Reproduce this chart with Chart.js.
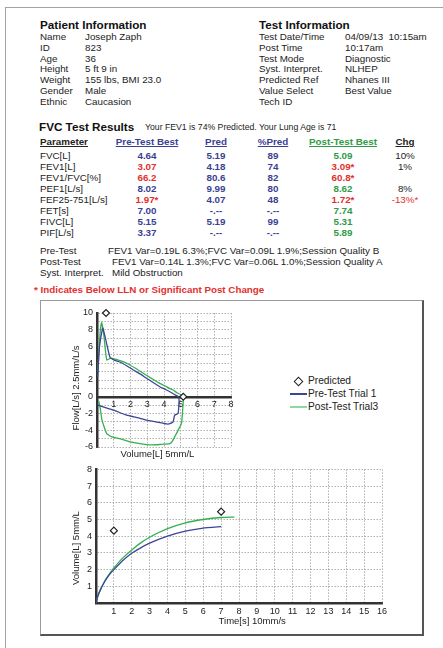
<!DOCTYPE html>
<html>
<head>
<meta charset="utf-8">
<script src="https://cdn.jsdelivr.net/npm/chart.js@4.4.1/dist/chart.umd.min.js"></script>
<style>
  body { margin: 0; width: 443px; height: 648px; background: #fff; position: relative; overflow: hidden;
         font-family: "Liberation Sans", Arial, sans-serif; font-size: 9.8px; color: #222; }
  .abs { position: absolute; white-space: nowrap; }
  .page { left: 5px; top: 7px; width: 600px; height: 800px; border-left: 1.5px solid #a3a3a3; border-top: 1.5px solid #a3a3a3; }
  .box { left: 40px; top: 300px; width: 381px; height: 333px; border-top: 1.5px solid #9a9a9a; border-left: 1.5px solid #9a9a9a;
         border-right: 2px solid #555; border-bottom: 2px solid #555; }
  .h1 { font-weight: bold; font-size: 11.7px; line-height: 13px; color: #111; }
  .info { display: grid; line-height: 10.8px; }
  .row { position: absolute; left: 0; width: 443px; height: 11px; line-height: 11px; }
  .row span { position: absolute; top: 0; }
  .c1 { left: 40px; }
  .c2 { left: 107px; width: 80px; text-align: center; }
  .c3 { left: 186px; width: 60px; text-align: center; }
  .c4 { left: 243px; width: 60px; text-align: center; }
  .c5 { left: 293px; width: 100px; text-align: center; }
  .c6 { left: 380px; width: 50px; text-align: center; }
  .b { color: #3b3f94; font-weight: bold; }
  .r { color: #e3302d; font-weight: bold; }
  .g { color: #2f9b45; font-weight: bold; }
  .hd span { font-weight: bold; text-decoration: underline; }
  canvas { position: absolute; }
  .leg { font-size: 10.2px; line-height: 11px; }
</style>
</head>
<body>
<div class="abs page"></div>

<div class="abs h1" style="left:40px; top:18px;">Patient Information</div>
<div class="abs info" style="left:40px; top:32px; grid-template-columns:45px auto;">
  <span>Name</span><span>Joseph Zaph</span>
  <span>ID</span><span>823</span>
  <span>Age</span><span>36</span>
  <span>Height</span><span>5 ft 9 in</span>
  <span>Weight</span><span>155 lbs, BMI 23.0</span>
  <span>Gender</span><span>Male</span>
  <span>Ethnic</span><span>Caucasion</span>
</div>

<div class="abs h1" style="left:259px; top:18px;">Test Information</div>
<div class="abs info" style="left:259px; top:32px; grid-template-columns:86px auto;">
  <span>Test Date/Time</span><span>04/09/13&nbsp; 10:15am</span>
  <span>Post Time</span><span>10:17am</span>
  <span>Test Mode</span><span>Diagnostic</span>
  <span>Syst. Interpret.</span><span>NLHEP</span>
  <span>Predicted Ref</span><span>Nhanes III</span>
  <span>Value Select</span><span>Best Value</span>
  <span>Tech ID</span><span></span>
</div>

<div class="abs h1" style="left:39px; top:120px;">FVC Test Results</div>
<div class="abs" style="left:145px; top:122px; line-height:10px; font-size:8.7px;">Your FEV1 is 74% Predicted. Your Lung Age is 71</div>

<div class="row hd" style="top:136px;"><span class="c1">Parameter</span><span class="c2 b">Pre-Test Best</span><span class="c3 b">Pred</span><span class="c4 b">%Pred</span><span class="c5 g">Post-Test Best</span><span class="c6">Chg</span></div>
<div class="row" style="top:150px;"><span class="c1">FVC[L]</span><span class="c2 b">4.64</span><span class="c3 b">5.19</span><span class="c4 b">89</span><span class="c5 g">5.09</span><span class="c6">10%</span></div>
<div class="row" style="top:161px;"><span class="c1">FEV1[L]</span><span class="c2 r">3.07</span><span class="c3 b">4.18</span><span class="c4 b">74</span><span class="c5 r">3.09*</span><span class="c6">1%</span></div>
<div class="row" style="top:172px;"><span class="c1">FEV1/FVC[%]</span><span class="c2 r">66.2</span><span class="c3 b">80.6</span><span class="c4 b">82</span><span class="c5 r">60.8*</span></div>
<div class="row" style="top:183px;"><span class="c1">PEF1[L/s]</span><span class="c2 b">8.02</span><span class="c3 b">9.99</span><span class="c4 b">80</span><span class="c5 g">8.62</span><span class="c6">8%</span></div>
<div class="row" style="top:194px;"><span class="c1">FEF25-751[L/s]</span><span class="c2 r">1.97*</span><span class="c3 b">4.07</span><span class="c4 b">48</span><span class="c5 r">1.72*</span><span class="c6 r" style="font-weight:normal;">-13%*</span></div>
<div class="row" style="top:205px;"><span class="c1">FET[s]</span><span class="c2 b">7.00</span><span class="c3 b">-.--</span><span class="c4 b">-.--</span><span class="c5 g">7.74</span></div>
<div class="row" style="top:216px;"><span class="c1">FIVC[L]</span><span class="c2 b">5.15</span><span class="c3 b">5.19</span><span class="c4 b">99</span><span class="c5 g">5.31</span></div>
<div class="row" style="top:227px;"><span class="c1">PIF[L/s]</span><span class="c2 b">3.37</span><span class="c3 b">-.--</span><span class="c4 b">-.--</span><span class="c5 g">5.89</span></div>

<div class="row" style="top:245px;"><span class="c1">Pre-Test</span><span style="left:108px;">FEV1 Var=0.19L 6.3%;FVC Var=0.09L 1.9%;Session Quality B</span></div>
<div class="row" style="top:256px;"><span class="c1">Post-Test</span><span style="left:112px;">FEV1 Var=0.14L 1.3%;FVC Var=0.06L 1.0%;Session Quality A</span></div>
<div class="row" style="top:267px;"><span class="c1">Syst. Interpret.</span><span style="left:112px;">Mild Obstruction</span></div>
<div class="abs" style="left:34px; top:285px; line-height:10px; font-weight:bold; color:#e3302d;">* Indicates Below LLN or Significant Post Change</div>

<div class="abs box"></div>
<canvas id="flowChart" width="210" height="160" style="left:40px; top:300px;"></canvas>
<canvas id="volChart" width="360" height="167" style="left:40px; top:460px;"></canvas>

<div class="abs leg" style="left:290px; top:375px;">
  <div style="position:absolute; left:5px; top:3px; width:5px; height:5px; border:1.2px solid #222; transform:rotate(45deg);"></div>
  <span style="position:absolute; left:18px; top:0;">Predicted</span>
</div>
<div class="abs leg" style="left:290px; top:388px;">
  <div style="position:absolute; left:0; top:5px; width:17px; height:1.5px; background:#3e4597;"></div>
  <span style="position:absolute; left:18px; top:0;">Pre-Test Trial 1</span>
</div>
<div class="abs leg" style="left:290px; top:401px;">
  <div style="position:absolute; left:0; top:5px; width:17px; height:1.5px; background:#8fd8a2;"></div>
  <span style="position:absolute; left:18px; top:0;">Post-Test Trial3</span>
</div>

<script>
// flow-volume loop, pre-test trial 1 (expiration then inspiration)
const preLoopVolume = [0.04, 0.15, 0.34, 0.5, 0.77, 1.0, 1.37, 1.77, 2.17, 2.6, 2.96, 3.35, 3.75, 4.05, 4.35, 4.64, 4.85,
                       4.9, 4.88, 4.84, 4.64, 4.54, 4.3, 4.15, 3.5, 2.96, 2.4, 1.77, 1.0, 0.5, 0.05];
const preLoopFlow   = [2.4, 6.0, 8.2, 7.0, 4.75, 4.4, 4.15, 3.7, 3.2, 2.7, 2.2, 1.7, 1.2, 0.9, 0.6, 0.25, 0.02,
                       -0.4, -1.2, -2.0, -2.2, -3.0, -3.25, -3.25, -3.0, -2.8, -2.5, -2.2, -1.6, -1.3, -1.0];

// flow-volume loop, post-test trial 3
const postLoopVolume = [0.05, 0.18, 0.28, 0.4, 0.58, 0.8, 0.97, 1.37, 1.77, 2.3, 2.76, 3.25, 3.75, 4.15, 4.54, 4.8, 5.04, 5.1,
                        5.15, 5.14, 5.1, 5.04, 4.74, 4.5, 4.35, 3.75, 3.2, 2.56, 2.0, 1.37, 0.9, 0.58, 0.3, 0.18, 0.1];
const postLoopFlow   = [3.0, 7.5, 8.9, 7.5, 4.4, 4.6, 4.55, 4.3, 4.0, 3.4, 2.8, 2.2, 1.6, 1.2, 0.8, 0.45, 0.2, 0.0,
                        -0.4, -0.8, -2.0, -3.2, -4.4, -5.3, -5.6, -5.7, -5.75, -5.6, -5.4, -5.0, -4.8, -4.4, -2.8, -1.2, -0.5];

const predFlowVolume = [0.54, 5.15];
const predFlow = [10, 0];

// volume-time curves
const preTime = [0, 0.1, 0.25, 0.5, 0.75, 1, 1.5, 2, 2.5, 3, 4, 5, 6, 7];
const preVolume = [0, 0.4, 0.8, 1.3, 1.7, 2.0, 2.55, 2.98, 3.3, 3.58, 4.0, 4.3, 4.48, 4.57];
const postTime = [0, 0.1, 0.25, 0.5, 0.75, 1, 1.5, 2, 2.5, 3, 4, 5, 6, 7, 7.74];
const postVolume = [0, 0.4, 0.8, 1.35, 1.75, 2.1, 2.7, 3.18, 3.6, 3.94, 4.45, 4.8, 5.0, 5.12, 5.14];

const predTime = [1, 7];
const predVolume = [4.33, 5.47];

const blue = "#3e4597";
const green = "#33b04f";
const FONT = "'Liberation Sans', Arial, sans-serif";

const toPoints = (xs, ys) => xs.map((x, i) => ({ x, y: ys[i] }));

function lineSet(xs, ys, color) {
  return {
    data: toPoints(xs, ys),
    borderColor: color,
    borderWidth: 1.3,
    pointRadius: 0,
    tension: 0.15,
    fill: false,
    showLine: true
  };
}

function predSet(xs, ys) {
  return {
    data: toPoints(xs, ys),
    showLine: false,
    pointStyle: "rectRot",
    pointRadius: 3.5,
    pointBackgroundColor: "#fff",
    pointBorderColor: "#222",
    pointBorderWidth: 1.2,
    clip: false
  };
}

const gridOpts = { color: "#9c9c9c", lineWidth: 0.8, drawTicks: false };
const tickFont = { family: FONT, size: 9 };
const titleFont = { family: FONT, size: 9.5 };

// Flow-volume chart
new Chart(document.getElementById("flowChart"), {
  type: "scatter",
  data: {
    datasets: [
      predSet(predFlowVolume, predFlow),
      lineSet(preLoopVolume, preLoopFlow, blue),
      lineSet(postLoopVolume, postLoopFlow, green)
    ]
  },
  options: {
    responsive: false,
    animation: false,
    layout: { padding: { left: 28, right: 19, top: 13, bottom: 0 } },
    plugins: { legend: { display: false }, tooltip: { enabled: false } },
    scales: {
      x: {
        type: "linear", min: 0, max: 8, position: { y: 0 },
        grid: gridOpts,
        border: { color: "#333", width: 2.5, dash: [1.5, 1.5] },
        ticks: { stepSize: 1, autoSkip: false, padding: 2, color: "#222", font: tickFont,
                 callback: v => v === 0 ? "" : v }
      },
      x2: {
        type: "linear", min: 0, max: 8, position: "bottom",
        grid: { display: false, drawTicks: false },
        border: { display: false },
        ticks: { display: false },
        title: { display: true, text: "Volume[L] 5mm/L     ", color: "#222", font: titleFont, padding: { top: 0, bottom: 0 } },
        afterFit: s => { s.height = 13; }
      },
      y: {
        type: "linear", min: -6, max: 10,
        grid: gridOpts,
        border: { color: "#333", width: 2.5, dash: [1.5, 1.5] },
        ticks: { stepSize: 1, autoSkip: false, padding: 4, color: "#222", font: tickFont,
                 callback: v => v % 2 === 0 ? v : "" },
        title: { display: true, text: "Flow[L/s] 2.5mm/L/s      ", color: "#222", font: titleFont, padding: { top: 3, bottom: 0 } },
        afterFit: s => { s.width = 29; }
      }
    }
  }
});

// Volume-time chart
new Chart(document.getElementById("volChart"), {
  type: "scatter",
  data: {
    datasets: [
      predSet(predTime, predVolume),
      lineSet(preTime, preVolume, blue),
      lineSet(postTime, postVolume, green)
    ]
  },
  options: {
    responsive: false,
    animation: false,
    layout: { padding: { left: 28, right: 18, top: 9, bottom: 0 } },
    plugins: { legend: { display: false }, tooltip: { enabled: false } },
    scales: {
      x: {
        type: "linear", min: 0, max: 16,
        grid: gridOpts,
        border: { color: "#333", width: 2.5, dash: [1.5, 1.5] },
        ticks: { stepSize: 1, autoSkip: false, padding: 3, maxRotation: 0, color: "#222", font: tickFont,
                 callback: v => v === 0 ? "" : v },
        title: { display: true, text: "          Time[s] 10mm/s", color: "#222", font: titleFont, padding: { top: 0, bottom: 0 } },
        afterFit: s => { s.height = 24; }
      },
      y: {
        type: "linear", min: 0, max: 8,
        grid: gridOpts,
        border: { color: "#333", width: 2.5, dash: [1.5, 1.5] },
        ticks: { stepSize: 1, autoSkip: false, padding: 4, color: "#222", font: tickFont,
                 callback: v => v === 0 ? "" : v },
        title: { display: true, text: "Volume[L] 5mm/L         ", color: "#222", font: titleFont, padding: { top: 3, bottom: 0 } },
        afterFit: s => { s.width = 28; }
      }
    }
  }
});
</script>
</body>
</html>
